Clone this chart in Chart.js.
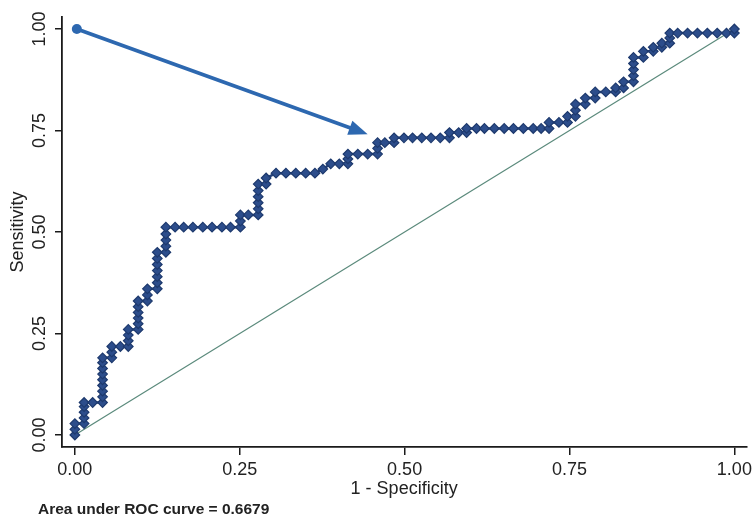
<!DOCTYPE html>
<html>
<head>
<meta charset="utf-8">
<title>ROC curve</title>
<script src="https://cdn.jsdelivr.net/npm/chart.js@4.4.1/dist/chart.umd.min.js"></script>
<style>
  html, body { margin: 0; padding: 0; background: #fff; }
  canvas { display: block; }
</style>
</head>
<body>
<canvas id="rocChart" width="756" height="517"></canvas>
<script>
// 1 - specificity and sensitivity at each cut-off
const fpr = [
  0, 0, 0, 0.014, 0.014, 0.014, 0.014, 0.014, 0.027, 0.042,
  0.042, 0.042, 0.042, 0.042, 0.042, 0.042, 0.042, 0.042, 0.056, 0.056,
  0.056, 0.069, 0.081, 0.081, 0.081, 0.081, 0.096, 0.096, 0.096, 0.096,
  0.096, 0.096, 0.11, 0.11, 0.11, 0.125, 0.125, 0.125, 0.125, 0.125,
  0.125, 0.125, 0.138, 0.138, 0.138, 0.138, 0.138, 0.152, 0.165, 0.179,
  0.194, 0.208, 0.223, 0.236, 0.251, 0.251, 0.251, 0.263, 0.278, 0.278,
  0.278, 0.278, 0.278, 0.278, 0.29, 0.29, 0.305, 0.32, 0.335, 0.35,
  0.364, 0.376, 0.388, 0.401, 0.414, 0.414, 0.414, 0.429, 0.444, 0.459,
  0.459, 0.459, 0.47, 0.484, 0.484, 0.499, 0.512, 0.526, 0.54, 0.554,
  0.568, 0.568, 0.582, 0.594, 0.594, 0.609, 0.621, 0.636, 0.651, 0.665,
  0.68, 0.695, 0.707, 0.719, 0.719, 0.734, 0.747, 0.747, 0.759, 0.759,
  0.759, 0.774, 0.774, 0.789, 0.789, 0.805, 0.82, 0.82, 0.832, 0.832,
  0.847, 0.847, 0.847, 0.847, 0.847, 0.862, 0.862, 0.877, 0.877, 0.89,
  0.89, 0.902, 0.902, 0.902, 0.914, 0.929, 0.944, 0.959, 0.974, 0.988,
  1, 1
];
const tpr = [
  0, 0.014, 0.028, 0.028, 0.042, 0.056, 0.07, 0.08, 0.08, 0.08,
  0.094, 0.108, 0.122, 0.136, 0.15, 0.164, 0.178, 0.19, 0.19, 0.204,
  0.218, 0.218, 0.218, 0.232, 0.246, 0.26, 0.26, 0.274, 0.288, 0.302,
  0.316, 0.33, 0.33, 0.345, 0.36, 0.36, 0.375, 0.39, 0.405, 0.42,
  0.435, 0.45, 0.45, 0.465, 0.48, 0.495, 0.512, 0.512, 0.512, 0.512,
  0.512, 0.512, 0.512, 0.512, 0.512, 0.527, 0.542, 0.542, 0.542, 0.557,
  0.572, 0.587, 0.602, 0.618, 0.618, 0.633, 0.645, 0.645, 0.645, 0.645,
  0.645, 0.655, 0.668, 0.668, 0.668, 0.68, 0.692, 0.692, 0.692, 0.692,
  0.706, 0.72, 0.72, 0.72, 0.732, 0.732, 0.732, 0.732, 0.732, 0.732,
  0.732, 0.745, 0.745, 0.745, 0.755, 0.755, 0.755, 0.755, 0.755, 0.755,
  0.755, 0.755, 0.755, 0.755, 0.77, 0.77, 0.77, 0.785, 0.785, 0.8,
  0.815, 0.815, 0.83, 0.83, 0.845, 0.845, 0.845, 0.855, 0.855, 0.87,
  0.87, 0.885, 0.9, 0.915, 0.93, 0.93, 0.945, 0.945, 0.955, 0.955,
  0.965, 0.965, 0.978, 0.99, 0.99, 0.99, 0.99, 0.99, 0.99, 0.99,
  0.99, 1
];
const refLine = [0, 1];
const xTicks = [0, 0.25, 0.5, 0.75, 1];
const yTicks = [0, 0.25, 0.5, 0.75, 1];
const arrowFrom = [0.003, 1.0];
const arrowTo = [0.444, 0.741];
const aucNote = 'Area under ROC curve = 0.6679';

const ctx = document.getElementById('rocChart').getContext('2d');

const rocPoints = fpr.map((x, i) => ({ x: x, y: tpr[i] }));
const diagPoints = refLine.map(v => ({ x: v, y: v }));

const axisColor = '#1a1a1a';
const fontFamily = '"Liberation Sans", Arial, sans-serif';

// arrow, rotated y tick labels and the AUC note
const extras = {
  id: 'extras',
  afterDatasetsDraw(chart) {
    const c = chart.ctx;
    const { x, y } = chart.scales;
    const x0 = x.getPixelForValue(arrowFrom[0]), y0 = y.getPixelForValue(arrowFrom[1]);
    const x1 = x.getPixelForValue(arrowTo[0]), y1 = y.getPixelForValue(arrowTo[1]);
    const ang = Math.atan2(y1 - y0, x1 - x0);
    const headLen = 19, headW = 7.5;
    const cos = Math.cos(ang), sin = Math.sin(ang);

    c.save();
    c.strokeStyle = '#2d68b0';
    c.fillStyle = '#2d68b0';
    c.lineWidth = 3.8;
    c.lineCap = 'round';
    c.beginPath();
    c.moveTo(x0, y0);
    c.lineTo(x1 - headLen * cos, y1 - headLen * sin);
    c.stroke();

    c.beginPath();
    c.moveTo(x1, y1);
    c.lineTo(x1 - headLen * cos + headW * sin, y1 - headLen * sin - headW * cos);
    c.lineTo(x1 - headLen * cos - headW * sin, y1 - headLen * sin + headW * cos);
    c.closePath();
    c.fill();

    c.beginPath();
    c.arc(x0, y0, 5, 0, Math.PI * 2);
    c.fill();
    c.restore();
  },
  afterDraw(chart) {
    const c = chart.ctx;
    const y = chart.scales.y;
    c.save();
    c.fillStyle = '#222';
    c.font = '18px ' + fontFamily;
    c.textAlign = 'center';
    c.textBaseline = 'middle';
    yTicks.forEach(v => {
      c.save();
      c.translate(40, y.getPixelForValue(v));
      c.rotate(-Math.PI / 2);
      c.fillText(v.toFixed(2), 0, 0);
      c.restore();
    });

    c.font = 'bold 15.5px ' + fontFamily;
    c.textAlign = 'left';
    c.fillText(aucNote, 38, 510);
    c.restore();
  }
};

new Chart(ctx, {
  type: 'scatter',
  data: {
    datasets: [
      {
        label: 'ROC',
        data: rocPoints,
        showLine: true,
        borderColor: '#22417a',
        borderWidth: 2.5,
        pointStyle: 'rectRot',
        pointRadius: 4.8,
        pointBackgroundColor: '#2c4d8b',
        pointBorderColor: '#1e3a6e',
        pointBorderWidth: 1.2,
        order: 1
      },
      {
        label: 'Reference',
        data: diagPoints,
        showLine: true,
        borderColor: '#5b8a7c',
        borderWidth: 1.2,
        pointRadius: 0,
        order: 2
      }
    ]
  },
  options: {
    responsive: false,
    animation: false,
    layout: { padding: { top: 17, right: 4, bottom: 0, left: 0 } },
    plugins: {
      legend: { display: false },
      tooltip: { enabled: false }
    },
    scales: {
      x: {
        type: 'linear',
        min: -0.0195,
        max: 1.018,
        afterBuildTicks: scale => { scale.ticks = xTicks.map(v => ({ value: v })); },
        afterFit: scale => { scale.height = 70; },
        ticks: {
          color: '#222',
          font: { family: fontFamily, size: 18 },
          padding: 4,
          maxRotation: 0,
          callback: v => Number(v).toFixed(2)
        },
        grid: {
          drawOnChartArea: false,
          color: axisColor,
          lineWidth: 1.5,
          tickLength: 8
        },
        border: { color: axisColor, width: 1.8 },
        title: {
          display: true,
          text: '1 - Specificity',
          color: '#222',
          font: { family: fontFamily, size: 18 },
          padding: { top: 0, bottom: 17 }
        }
      },
      y: {
        type: 'linear',
        min: -0.0296,
        max: 1.0296,
        afterBuildTicks: scale => { scale.ticks = yTicks.map(v => ({ value: v })); },
        afterFit: scale => { scale.width = 62; },
        ticks: { display: false },
        grid: {
          drawOnChartArea: false,
          color: axisColor,
          lineWidth: 1.5,
          tickLength: 7
        },
        border: { color: axisColor, width: 1.8 },
        title: {
          display: true,
          text: 'Sensitivity',
          color: '#222',
          font: { family: fontFamily, size: 18 },
          padding: { top: 7, bottom: 0 }
        }
      }
    }
  },
  plugins: [extras]
});
</script>
</body>
</html>
